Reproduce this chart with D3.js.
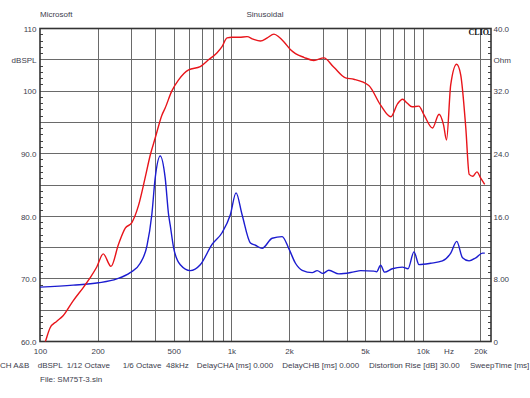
<!DOCTYPE html>
<html><head><meta charset="utf-8">
<script src="https://cdn.jsdelivr.net/npm/d3@7"></script>
<style>
html,body{margin:0;padding:0;background:#fff;}
svg{display:block;}
</style></head><body>
<svg id="chart" width="530" height="398"></svg>
<script>
// ---- data ----
const splFreq = [100,107,113,122,132,149,169,183,198,214,235,257,279,302,327,354,377,400,434,451,488,530,598,688,760,840,894,950,1008,1100,1208,1300,1418,1540,1670,1780,1880,2040,2164,2393,2700,3043,3434,3953,4364,5228,6014,6817,7400,7850,8285,8800,9542,10160,11250,12180,12850,13320,14010,15050,15800,16800,17500,18250,19200,20100,21100];
const splDb   = [57.2,60.1,62.2,63.2,64.1,66.5,68.7,70.2,71.9,74.0,72.0,75.5,78.1,79.0,81.7,86.1,89.8,92.5,96.2,97.3,100.0,101.8,103.4,103.9,105.0,106.1,107.1,108.5,108.6,108.6,108.7,108.3,108.0,108.5,109.1,108.6,107.9,106.6,106.0,105.4,104.9,105.3,103.8,102.1,101.9,100.9,97.8,95.9,98.0,98.7,98.1,97.5,97.6,96.2,94.1,96.3,94.6,92.2,101.0,104.3,102.6,94.1,86.7,86.4,87.1,86.1,85.1];

const impFreq = [100,149,202,252,296,334,362,384,400,425,451,470,479,499,541,610,688,793,894,988,1058,1138,1258,1336,1448,1634,1843,1995,2163,2345,2646,2810,3006,3232,3646,4369,4736,5559,5743,6027,6324,6940,7830,8375,9005,9563,11015,12682,14017,15068,16143,17474,18947,20542,21117];
const impOhm  = [6.95,7.2,7.5,8.0,8.8,10.0,12.2,16.2,20.9,23.7,20.9,16.2,14.9,12.0,9.8,9.06,9.8,12.4,13.9,16.2,19.0,16.2,12.6,12.3,11.9,13.2,13.4,11.9,10.0,9.1,8.8,9.06,8.7,9.1,8.64,8.9,9.06,9.0,8.9,9.75,8.86,9.3,9.5,9.3,11.45,9.83,10.0,10.3,11.3,12.8,10.7,10.3,10.7,11.3,11.3];

const xTickValues = [100,200,500,1000,2000,5000,10000,20000];
const xTickLabels = ["100","200","500","1k","2k","5k","10k","20k"];
const xGridValues = [200,300,400,500,600,700,800,900,1000,2000,3000,4000,5000,6000,7000,8000,9000,10000,20000];
const leftTickValues = [110,105,100,90,80,70,60];
const leftTickLabels = ["110","dBSPL","100","90.0","80.0","70.0","60.0"];
const rightTickValues = [40,36,32,24,16,8,0];
const rightTickLabels = ["40.0","Ohm","32.0","24.0","16.0","8.00","0"];
const yGridValues = [105,100,95,90,85,80,75,70,65];
const footerItems = ["CH A&B","dBSPL","1/12 Octave","1/6 Octave","48kHz","DelayCHA [ms] 0.000","DelayCHB [ms] 0.000","Distortion Rise [dB] 30.00","SweepTime [ms]"];
const footerX = [0,37.7,66.7,122.7,166,196.7,282.3,369,470];

// ---- layout ----
const L = 40, R = 491, T = 28.5, B = 341.5;
const FONT = "'Liberation Sans', Arial, sans-serif";
const TXT = "#3d3d4d";

const svg = d3.select("#chart");
const x = d3.scaleLog().domain([100, 22750]).range([L, R]);
const y = d3.scaleLinear().domain([60, 110]).range([B, T]);
const yR = d3.scaleLinear().domain([0, 40]).range([B, T]);

svg.append("rect").attr("width",530).attr("height",398).attr("fill","#fff");

// grid
const grid = svg.append("g").attr("stroke","#6a6a6a").attr("stroke-width",1).attr("shape-rendering","crispEdges");
grid.selectAll("line.v").data(xGridValues).join("line").attr("class","v")
  .attr("x1",d=>Math.round(x(d))+0.5).attr("x2",d=>Math.round(x(d))+0.5).attr("y1",T).attr("y2",B);
grid.selectAll("line.h").data(yGridValues).join("line").attr("class","h")
  .attr("x1",L).attr("x2",R).attr("y1",d=>y(d)).attr("y2",d=>y(d));

// minor ticks
const minorL = d3.range(61,110).filter(v=>v%5!==0);
svg.append("g").attr("stroke","#444").attr("shape-rendering","crispEdges")
  .selectAll("line").data(minorL).join("line")
  .attr("x1",L).attr("x2",L+3).attr("y1",d=>y(d)).attr("y2",d=>y(d));
const minorR = d3.range(1,50).filter(v=>v%5!==0).map(v=>v*0.8);
svg.append("g").attr("stroke","#444").attr("shape-rendering","crispEdges")
  .selectAll("line").data(minorR).join("line")
  .attr("x1",R-3).attr("x2",R).attr("y1",d=>yR(d)).attr("y2",d=>yR(d));

// frame
svg.append("rect").attr("x",L).attr("y",T).attr("width",R-L).attr("height",B-T)
  .attr("fill","none").attr("stroke","#333").attr("stroke-width",1.6);

// curves
svg.append("clipPath").attr("id","plotclip").append("rect")
  .attr("x",L).attr("y",T).attr("width",R-L).attr("height",B-T);
const splData = splFreq.map((f,i)=>[f,splDb[i]]);
const impData = impFreq.map((f,i)=>[f,impOhm[i]]);
const lineSpl = d3.line().x(d=>x(d[0])).y(d=>y(d[1])).curve(d3.curveMonotoneX);
const lineImp = d3.line().x(d=>x(d[0])).y(d=>yR(d[1])).curve(d3.curveMonotoneX);
const curves = svg.append("g").attr("clip-path","url(#plotclip)");
curves.append("path").datum(impData).attr("d",lineImp).attr("fill","none")
  .attr("stroke","#1c1cd0").attr("stroke-width",1.4);
curves.append("path").datum(splData).attr("d",lineSpl).attr("fill","none")
  .attr("stroke","#e8141a").attr("stroke-width",1.4);

// axes labels
function styleAxis(g){
  g.select(".domain").remove();
  g.selectAll("text").attr("font-family",FONT).attr("font-size",8).attr("fill",TXT);
}
const ax = svg.append("g").attr("transform",`translate(0,${B})`)
  .call(d3.axisBottom(x).tickValues(xTickValues).tickFormat((d,i)=>xTickLabels[i]).tickSize(0));
styleAxis(ax);
ax.selectAll("text").attr("y",12.8).attr("dy",0);
svg.append("text").attr("x",449).attr("y",354.3).attr("text-anchor","middle")
  .attr("font-family",FONT).attr("font-size",8).attr("fill",TXT).text("Hz");

const ayl = svg.append("g").attr("transform",`translate(${L},0)`)
  .call(d3.axisLeft(y).tickValues(leftTickValues).tickFormat((d,i)=>leftTickLabels[i]).tickSize(0).tickPadding(3.5));
styleAxis(ayl);
ayl.selectAll("text").attr("dy","0.34em");

const ayr = svg.append("g").attr("transform",`translate(${R},0)`)
  .call(d3.axisRight(yR).tickValues(rightTickValues).tickFormat((d,i)=>rightTickLabels[i]).tickSize(0).tickPadding(2.5));
styleAxis(ayr);
ayr.selectAll("text").attr("dy","0.34em");

// titles
const t = (xx,yy,s,anchor)=>svg.append("text").attr("x",xx).attr("y",yy).attr("text-anchor",anchor||"start")
  .attr("font-family",FONT).attr("font-size",8).attr("fill",TXT).text(s);
t(40,17,"Microsoft");
t(246.5,17,"Sinusoidal");
svg.append("text").attr("x",489).attr("y",35).attr("text-anchor","end")
  .attr("font-family","'Liberation Serif','Times New Roman',serif").attr("font-weight","bold")
  .attr("font-size",8).attr("fill","#111").text("CLIO");

footerItems.forEach((s,i)=>t(footerX[i],368.4,s));
t(40,382.3,"File: SM75T-3.sin");
</script>
</body></html>
